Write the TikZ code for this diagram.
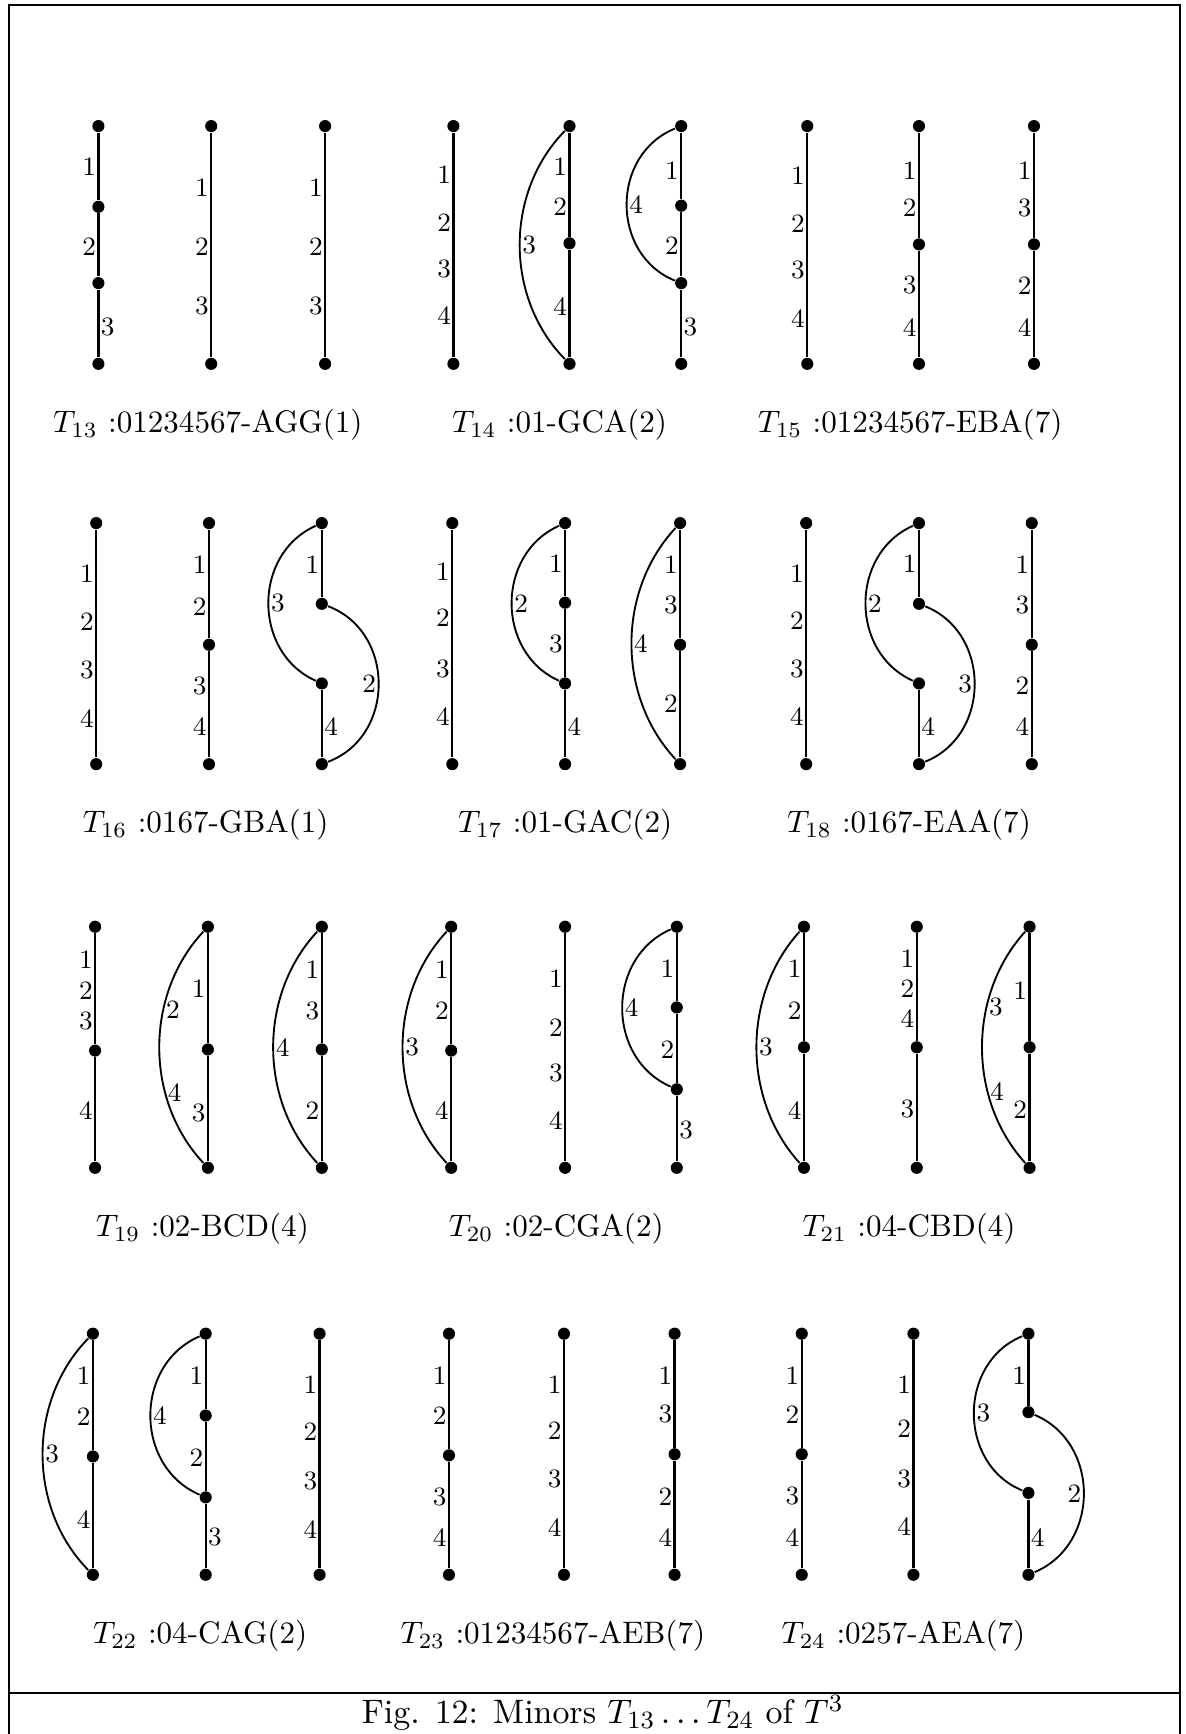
\documentclass[tikz,border=0pt]{standalone}
\usetikzlibrary{calc}
\tikzset{
  dotn/.style={circle, fill=black, inner sep=0pt, minimum size=3.9pt},
  edge/.style={line width=0.75pt},
  arcln/.style={line width=0.6pt},
  lab/.style={font=\fontsize{8.5}{10}\selectfont, inner sep=0.6pt},
  labL/.style={lab, anchor=east},
  labR/.style={lab, anchor=west},
  ttl/.style={anchor=base, inner sep=0pt, font=\normalsize},
  frame/.style={line width=0.8pt}
}
\newcommand\V[3]{\node[dotn] (#1) at (#2,#3) {};}
\newcommand\LL[4]{\node[labL] (#1) at (#2,#3) {#4};}
\newcommand\LR[4]{\node[labR] (#1) at (#2,#3) {#4};}
% left arc: from, to, k, d, label nodes
\newcommand\arcL[5]{\draw[arcln] (#1) .. controls ($(#1)+(-#3,#4)$) and ($(#2)+(-#3,-#4)$) .. (#2) #5;}
\newcommand\arcR[5]{\draw[arcln] (#1) .. controls ($(#1)+(#3,#4)$) and ($(#2)+(#3,-#4)$) .. (#2) #5;}
\begin{document}
\begin{tikzpicture}[x=0.0125cm, y=-0.0125cm]
\useasboundingbox (0,0) rectangle (1072,1568);
% frame
\coordinate (fbl) at (8,1568); \coordinate (ftl) at (8,4.5);
\coordinate (ftr) at (1067,4.5); \coordinate (fbr) at (1067,1568);
\coordinate (fsl) at (8,1531); \coordinate (fsr) at (1067,1531);
\draw[frame] (fbl) -- (ftl) -- (ftr) -- (fbr);
\draw[frame] (fsl) -- (fsr);
\node[font=\fontsize{10.9}{13}\selectfont, inner sep=0pt] (cap) at (545,1549) {Fig. 12: Minors $T_{13}\ldots T_{24}$ of $T^3$};

%%%%%%%%%%%%%%%% ROW 1
% T13 g1
\V{a1t}{89}{114} \V{a1m}{89}{187} \V{a1n}{89}{256} \V{a1b}{89}{329}
\draw[edge] (a1t) -- (a1m) -- (a1n) -- (a1b);
\LL{a1l1}{89}{151}{1} \LL{a1l2}{89}{223}{2} \LR{a1l3}{89}{296}{3}
% T13 g2
\V{a2t}{191}{114} \V{a2b}{191}{329}
\draw[edge] (a2t) -- (a2b);
\LL{a2l1}{191}{170}{1} \LL{a2l2}{191}{223}{2} \LL{a2l3}{191}{277}{3}
% T13 g3
\V{a3t}{294}{114} \V{a3b}{294}{329}
\draw[edge] (a3t) -- (a3b);
\LL{a3l1}{294}{170}{1} \LL{a3l2}{294}{223}{2} \LL{a3l3}{294}{277}{3}
% T14 g1
\V{a4t}{410}{114} \V{a4b}{410}{329}
\draw[edge] (a4t) -- (a4b);
\LL{a4l1}{410}{158}{1} \LL{a4l2}{410}{201}{2} \LL{a4l3}{410}{243}{3} \LL{a4l4}{410}{285}{4}
% T14 g2
\V{a5t}{515}{114} \V{a5m}{515}{220} \V{a5b}{515}{329}
\draw[edge] (a5t) -- (a5m) -- (a5b);
\arcL{a5t}{a5b}{58.7}{59.8}{node[pos=.5, labR] (a5l3) {3}}
\LL{a5l1}{515}{151}{1} \LL{a5l2}{515}{187}{2} \LL{a5l4}{515}{277}{4}
% T14 g3
\V{a6t}{616}{114} \V{a6m}{616}{186} \V{a6n}{616}{256} \V{a6b}{616}{329}
\draw[edge] (a6t) -- (a6m) -- (a6n) -- (a6b);
\arcL{a6t}{a6n}{64}{25.7}{node[pos=.5, labR] (a6l4) {4}}
\LL{a6l1}{616}{154}{1} \LL{a6l2}{616}{222}{2} \LR{a6l3}{616}{296}{3}
% T15 g1
\V{a7t}{730}{114} \V{a7b}{730}{329}
\draw[edge] (a7t) -- (a7b);
\LL{a7l1}{730}{159}{1} \LL{a7l2}{730}{202}{2} \LL{a7l3}{730}{244}{3} \LL{a7l4}{730}{288}{4}
% T15 g2
\V{a8t}{831}{114} \V{a8m}{831}{221} \V{a8b}{831}{329}
\draw[edge] (a8t) -- (a8m) -- (a8b);
\LL{a8l1}{831}{154}{1} \LL{a8l2}{831}{188}{2} \LL{a8l3}{831}{258}{3} \LL{a8l4}{831}{296}{4}
% T15 g3
\V{a9t}{935}{114} \V{a9m}{935}{221} \V{a9b}{935}{329}
\draw[edge] (a9t) -- (a9m) -- (a9b);
\LL{a9l1}{935}{154}{1} \LL{a9l3}{935}{188}{3} \LL{a9l2}{935}{258}{2} \LL{a9l4}{935}{296}{4}
% titles
\node[ttl] (T13) at (188,391) {$T_{13}$ :01234567-AGG(1)};
\node[ttl] (T14) at (506,391) {$T_{14}$ :01-GCA(2)};
\node[ttl] (T15) at (823,391) {$T_{15}$ :01234567-EBA(7)};

%%%%%%%%%%%%%%%% ROW 2
% T16 g1
\V{b1t}{87}{473} \V{b1b}{87}{691}
\draw[edge] (b1t) -- (b1b);
\LL{b1l1}{87}{519}{1} \LL{b1l2}{87}{562}{2} \LL{b1l3}{87}{606}{3} \LL{b1l4}{87}{650}{4}
% T16 g2
\V{b2t}{189}{473} \V{b2m}{189}{583} \V{b2b}{189}{691}
\draw[edge] (b2t) -- (b2m) -- (b2b);
\LL{b2l1}{189}{511}{1} \LL{b2l2}{189}{549}{2} \LL{b2l3}{189}{620}{3} \LL{b2l4}{189}{657}{4}
% T16 g3
\V{b3t}{291}{473} \V{b3m}{291}{546} \V{b3n}{291}{618} \V{b3b}{291}{691}
\draw[edge] (b3t) -- (b3m);
\draw[edge] (b3n) -- (b3b);
\arcL{b3t}{b3n}{62.7}{28}{node[pos=.5, labR] (b3l3) {3}}
\arcR{b3m}{b3b}{66.7}{25.3}{node[pos=.5, labL] (b3l2) {2}}
\LL{b3l1}{291}{511}{1} \LR{b3l4}{291}{657}{4}
% T17 g1
\V{b4t}{409}{473} \V{b4b}{409}{691}
\draw[edge] (b4t) -- (b4b);
\LL{b4l1}{409}{517}{1} \LL{b4l2}{409}{559}{2} \LL{b4l3}{409}{605}{3} \LL{b4l4}{409}{648}{4}
% T17 g2
\V{b5t}{511}{473} \V{b5m}{511}{545} \V{b5n}{511}{618} \V{b5b}{511}{691}
\draw[edge] (b5t) -- (b5m) -- (b5n) -- (b5b);
\arcL{b5t}{b5n}{62.7}{28}{node[pos=.5, labR] (b5l2) {2}}
\LL{b5l1}{511}{510}{1} \LL{b5l3}{511}{582}{3} \LR{b5l4}{511}{657}{4}
% T17 g3
\V{b6t}{615}{473} \V{b6m}{615}{583} \V{b6b}{615}{691}
\draw[edge] (b6t) -- (b6m) -- (b6b);
\arcL{b6t}{b6b}{57.3}{61.4}{node[pos=.5, labR] (b6l4) {4}}
\LL{b6l1}{615}{511}{1} \LL{b6l3}{615}{547}{3} \LL{b6l2}{615}{636}{2}
% T18 g1
\V{b7t}{729}{473} \V{b7b}{729}{691}
\draw[edge] (b7t) -- (b7b);
\LL{b7l1}{729}{519}{1} \LL{b7l2}{729}{561}{2} \LL{b7l3}{729}{605}{3} \LL{b7l4}{729}{648}{4}
% T18 g2
\V{b8t}{831}{473} \V{b8m}{831}{546} \V{b8n}{831}{618} \V{b8b}{831}{691}
\draw[edge] (b8t) -- (b8m);
\draw[edge] (b8n) -- (b8b);
\arcL{b8t}{b8n}{62.7}{28}{node[pos=.5, labR] (b8l2) {2}}
\arcR{b8m}{b8b}{65.3}{26.2}{node[pos=.5, labL] (b8l3) {3}}
\LL{b8l1}{831}{510}{1} \LR{b8l4}{831}{657}{4}
% T18 g3
\V{b9t}{933}{473} \V{b9m}{933}{583} \V{b9b}{933}{691}
\draw[edge] (b9t) -- (b9m) -- (b9b);
\LL{b9l1}{933}{511}{1} \LL{b9l3}{933}{547}{3} \LL{b9l2}{933}{620}{2} \LL{b9l4}{933}{657}{4}
% titles
\node[ttl] (T16) at (186,753) {$T_{16}$ :0167-GBA(1)};
\node[ttl] (T17) at (511,753) {$T_{17}$ :01-GAC(2)};
\node[ttl] (T18) at (822,753) {$T_{18}$ :0167-EAA(7)};

%%%%%%%%%%%%%%%% ROW 3
% T19 g1
\V{c1t}{86}{838} \V{c1m}{86}{950} \V{c1b}{86}{1056}
\draw[edge] (c1t) -- (c1m) -- (c1b);
\LL{c1l1}{86}{868}{1} \LL{c1l2}{86}{896}{2} \LL{c1l3}{86}{923}{3} \LL{c1l4}{86}{1004}{4}
% T19 g2
\V{c2t}{188}{838} \V{c2m}{188}{949} \V{c2b}{188}{1056}
\draw[edge] (c2t) -- (c2m) -- (c2b);
\arcL{c2t}{c2b}{57.3}{61.4}{node[pos=.35, labR] (c2l2) {2} node[pos=.68, labR] (c2l4) {4}}
\LL{c2l1}{188}{894}{1} \LL{c2l3}{188}{1006}{3}
% T19 g3
\V{c3t}{291}{838} \V{c3m}{291}{949} \V{c3b}{291}{1056}
\draw[edge] (c3t) -- (c3m) -- (c3b);
\arcL{c3t}{c3b}{57.3}{61.4}{node[pos=.5, labR] (c3l4) {4}}
\LL{c3l1}{291}{877}{1} \LL{c3l3}{291}{914}{3} \LL{c3l2}{291}{1004}{2}
% T20 g1
\V{c4t}{408}{838} \V{c4m}{408}{950} \V{c4b}{408}{1056}
\draw[edge] (c4t) -- (c4m) -- (c4b);
\arcL{c4t}{c4b}{57.3}{61.4}{node[pos=.5, labR] (c4l3) {3}}
\LL{c4l1}{408}{877}{1} \LL{c4l2}{408}{914}{2} \LL{c4l4}{408}{1004}{4}
% T20 g2
\V{c5t}{511}{838} \V{c5b}{511}{1056}
\draw[edge] (c5t) -- (c5b);
\LL{c5l1}{511}{885}{1} \LL{c5l2}{511}{929}{2} \LL{c5l3}{511}{970}{3} \LL{c5l4}{511}{1013}{4}
% T20 g3
\V{c6t}{612}{838} \V{c6m}{612}{911} \V{c6n}{612}{985} \V{c6b}{612}{1056}
\draw[edge] (c6t) -- (c6m) -- (c6n) -- (c6b);
\arcL{c6t}{c6n}{64}{28}{node[pos=.5, labR] (c6l4) {4}}
\LL{c6l1}{612}{876}{1} \LL{c6l2}{612}{949}{2} \LR{c6l3}{612}{1022}{3}
% T21 g1
\V{c7t}{727}{838} \V{c7m}{727}{947} \V{c7b}{727}{1056}
\draw[edge] (c7t) -- (c7m) -- (c7b);
\arcL{c7t}{c7b}{56}{62}{node[pos=.5, labR] (c7l3) {3}}
\LL{c7l1}{727}{876}{1} \LL{c7l2}{727}{914}{2} \LL{c7l4}{727}{1004}{4}
% T21 g2
\V{c8t}{829}{838} \V{c8m}{829}{947} \V{c8b}{829}{1056}
\draw[edge] (c8t) -- (c8m) -- (c8b);
\LL{c8l1}{829}{867}{1} \LL{c8l2}{829}{894}{2} \LL{c8l4}{829}{921}{4} \LL{c8l3}{829}{1003}{3}
% T21 g3
\V{c9t}{931}{838} \V{c9m}{931}{947} \V{c9b}{931}{1056}
\draw[edge] (c9t) -- (c9m) -- (c9b);
\arcL{c9t}{c9b}{56}{62}{node[pos=.34, labR] (c9l3) {3} node[pos=.68, labR] (c9l4) {4}}
\LL{c9l1}{931}{896}{1} \LL{c9l2}{931}{1003}{2}
% titles
\node[ttl] (T19) at (183,1118) {$T_{19}$ :02-BCD(4)};
\node[ttl] (T20) at (503,1118) {$T_{20}$ :02-CGA(2)};
\node[ttl] (T21) at (822,1118) {$T_{21}$ :04-CBD(4)};

%%%%%%%%%%%%%%%% ROW 4
% T22 g1
\V{d1t}{84}{1206} \V{d1m}{84}{1317} \V{d1b}{84}{1424}
\draw[edge] (d1t) -- (d1m) -- (d1b);
\arcL{d1t}{d1b}{59.3}{60.5}{node[pos=.5, labR] (d1l3) {3}}
\LL{d1l1}{84}{1244}{1} \LL{d1l2}{84}{1281}{2} \LL{d1l4}{84}{1374}{4}
% T22 g2
\V{d2t}{186}{1206} \V{d2m}{186}{1280} \V{d2n}{186}{1354} \V{d2b}{186}{1424}
\draw[edge] (d2t) -- (d2m) -- (d2n) -- (d2b);
\arcL{d2t}{d2n}{64.9}{28}{node[pos=.5, labR] (d2l4) {4}}
\LL{d2l1}{186}{1244}{1} \LL{d2l2}{186}{1318}{2} \LR{d2l3}{186}{1390}{3}
% T22 g3
\V{d3t}{289}{1206} \V{d3b}{289}{1424}
\draw[edge] (d3t) -- (d3b);
\LL{d3l1}{289}{1252}{1} \LL{d3l2}{289}{1295}{2} \LL{d3l3}{289}{1339}{3} \LL{d3l4}{289}{1383}{4}
% T23 g1
\V{d4t}{406}{1206} \V{d4m}{406}{1316} \V{d4b}{406}{1424}
\draw[edge] (d4t) -- (d4m) -- (d4b);
\LL{d4l1}{406}{1244}{1} \LL{d4l2}{406}{1280}{2} \LL{d4l3}{406}{1354}{3} \LL{d4l4}{406}{1390}{4}
% T23 g2
\V{d5t}{510}{1206} \V{d5b}{510}{1424}
\draw[edge] (d5t) -- (d5b);
\LL{d5l1}{510}{1252}{1} \LL{d5l2}{510}{1294}{2} \LL{d5l3}{510}{1337}{3} \LL{d5l4}{510}{1381}{4}
% T23 g3
\V{d6t}{610}{1206} \V{d6m}{610}{1315} \V{d6b}{610}{1424}
\draw[edge] (d6t) -- (d6m) -- (d6b);
\LL{d6l1}{610}{1244}{1} \LL{d6l3}{610}{1279}{3} \LL{d6l2}{610}{1353}{2} \LL{d6l4}{610}{1390}{4}
% T24 g1
\V{d7t}{725}{1206} \V{d7m}{725}{1315} \V{d7b}{725}{1424}
\draw[edge] (d7t) -- (d7m) -- (d7b);
\LL{d7l1}{725}{1244}{1} \LL{d7l2}{725}{1279}{2} \LL{d7l3}{725}{1353}{3} \LL{d7l4}{725}{1390}{4}
% T24 g2
\V{d8t}{826}{1206} \V{d8b}{826}{1424}
\draw[edge] (d8t) -- (d8b);
\LL{d8l1}{826}{1252}{1} \LL{d8l2}{826}{1292}{2} \LL{d8l3}{826}{1337}{3} \LL{d8l4}{826}{1380}{4}
% T24 g3
\V{d9t}{930}{1206} \V{d9m}{930}{1277} \V{d9n}{930}{1350} \V{d9b}{930}{1424}
\draw[edge] (d9t) -- (d9m);
\draw[edge] (d9n) -- (d9b);
\arcL{d9t}{d9n}{64}{26}{node[pos=.5, labR] (d9l3) {3}}
\arcR{d9m}{d9b}{65}{27.5}{node[pos=.5, labL] (d9l2) {2}}
\LL{d9l1}{930}{1244}{1} \LR{d9l4}{930}{1390}{4}
% titles
\node[ttl] (T22) at (181,1486) {$T_{22}$ :04-CAG(2)};
\node[ttl] (T23) at (500,1486) {$T_{23}$ :01234567-AEB(7)};
\node[ttl] (T24) at (817,1486) {$T_{24}$ :0257-AEA(7)};
\end{tikzpicture}
\end{document}
